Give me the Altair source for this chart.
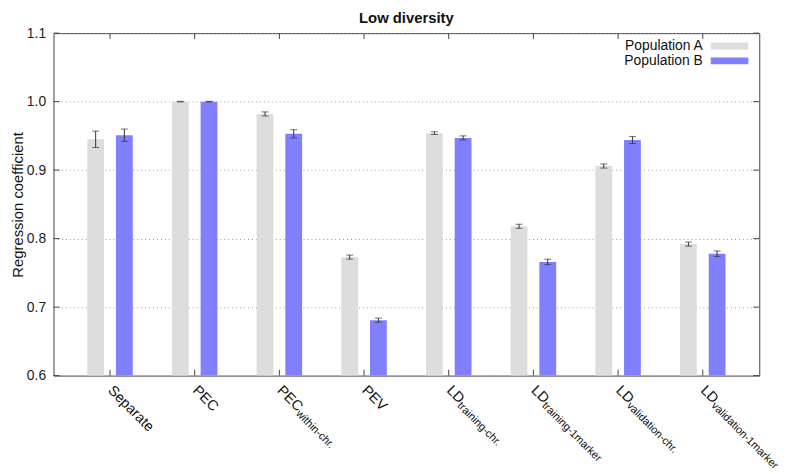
import altair as alt
import pandas as pd

FONT = "Liberation Sans"

title_text = ["Low diversity"]
label_main = ["Separate", "PEC", "PEC", "PEV", "LD", "LD", "LD", "LD"]
label_sub = ["", "", "within-chr.", "", "training-chr.", "training-1marker",
             "validation-chr.", "validation-1marker"]
keys = [m + s for m, s in zip(label_main, label_sub)]

pops = ["Population A", "Population B"]
pop_colors = ["#dddddd", "#8080ff"]

vals_A = [0.945, 1.000, 0.982, 0.773, 0.954, 0.818, 0.906, 0.792]
err_A = [0.012, 0.0005, 0.003, 0.003, 0.002, 0.003, 0.003, 0.003]
vals_B = [0.951, 1.000, 0.953, 0.681, 0.947, 0.766, 0.944, 0.778]
err_B = [0.009, 0.0005, 0.006, 0.003, 0.003, 0.004, 0.005, 0.004]

yticks = [0.6, 0.7, 0.8, 0.9, 1.0, 1.1]

W, H = 713, 346

rows = []
for i, k in enumerate(keys):
    rows.append({"key": k, "pop": pops[0], "val": vals_A[i],
                 "lo": vals_A[i] - err_A[i], "hi": vals_A[i] + err_A[i]})
    rows.append({"key": k, "pop": pops[1], "val": vals_B[i],
                 "lo": vals_B[i] - err_B[i], "hi": vals_B[i] + err_B[i]})
df = pd.DataFrame(rows)
lab = pd.DataFrame({"key": keys, "main": label_main, "sub": label_sub})
yt = pd.DataFrame({"v": yticks})
leg = pd.DataFrame({"pop": pops})
ttl = pd.DataFrame({"t": title_text})

xsc = alt.Scale(domain=keys, paddingInner=0.3, paddingOuter=0.317)
ysc = alt.Scale(domain=[0.6, 1.1], nice=False, zero=False)
xoff = alt.XOffset("pop:N", scale=alt.Scale(domain=pops, paddingInner=0.414, paddingOuter=0.24))
X = alt.X("key:N", scale=xsc, axis=None)
col = alt.Color("pop:N", scale=alt.Scale(domain=pops, range=pop_colors), legend=None)

bars = alt.Chart(df).mark_bar().encode(
    x=X, xOffset=xoff,
    y=alt.Y("val:Q", scale=ysc, axis=alt.Axis(
        values=yticks, format=".1f", ticks=False, domain=False,
        labelPadding=8, labelFontSize=14, labelFont=FONT, labelColor="#222",
        grid=True, gridDash=[1, 3], gridColor="#999",
        title="Regression coefficient", titleFont=FONT, titleFontSize=15,
        titleFontWeight="normal", titleColor="#111", titlePadding=1)),
    y2=alt.datum(0.6),
    color=col,
)

err = alt.Chart(df).mark_rule(color="#333", strokeWidth=1).encode(
    x=X, xOffset=xoff, y=alt.Y("lo:Q", scale=ysc), y2="hi:Q")
cap_lo = alt.Chart(df).mark_tick(color="#333", orient="horizontal", size=7, thickness=1).encode(
    x=X, xOffset=xoff, y=alt.Y("lo:Q", scale=ysc))
cap_hi = alt.Chart(df).mark_tick(color="#333", orient="horizontal", size=7, thickness=1).encode(
    x=X, xOffset=xoff, y=alt.Y("hi:Q", scale=ysc))

tick_l = alt.Chart(yt).mark_rule(color="#444").encode(
    y=alt.Y("v:Q", scale=ysc), x=alt.value(0), x2=alt.value(6))
tick_r = alt.Chart(yt).mark_rule(color="#444").encode(
    y=alt.Y("v:Q", scale=ysc), x=alt.value(W - 6), x2=alt.value(W))
tick_b = alt.Chart(lab).mark_rule(color="#444").encode(
    x=X, y=alt.value(H), y2=alt.value(H - 6))
tick_t = alt.Chart(lab).mark_rule(color="#444").encode(
    x=X, y=alt.value(0), y2=alt.value(6))

main_txt = alt.Chart(lab).mark_text(
    angle=45, align="left", baseline="top", font=FONT, fontSize=14.5, color="#111", dx=7
).encode(x=X, y=alt.value(H + 3), text="main:N")
sub_pec = alt.Chart(lab).transform_filter(
    (alt.datum.main == "PEC") & (alt.datum.sub != "")
).mark_text(angle=45, align="left", baseline="top", font=FONT, fontSize=11,
            color="#111", dx=7 + 30, dy=5).encode(x=X, y=alt.value(H + 3), text="sub:N")
sub_ld = alt.Chart(lab).transform_filter(
    alt.datum.main == "LD"
).mark_text(angle=45, align="left", baseline="top", font=FONT, fontSize=11,
            color="#111", dx=7 + 18.5, dy=5).encode(x=X, y=alt.value(H + 3), text="sub:N")

title_mark = alt.Chart(ttl).mark_text(
    align="center", baseline="alphabetic", font=FONT, fontSize=15, fontWeight="bold",
    color="#111").encode(x=alt.value(W / 2), y=alt.value(-10), text="t:N")

legend_layers = []
for p, yy in zip(pops, [13, 28]):
    d = alt.Chart(leg).transform_filter(alt.datum.pop == p)
    legend_layers.append(d.mark_rule(strokeWidth=7).encode(
        x=alt.value(W - 49), x2=alt.value(W - 11), y=alt.value(yy), color=col))
    legend_layers.append(d.mark_text(align="right", baseline="middle", font=FONT,
                                     fontSize=14, color="#111").encode(
        x=alt.value(W - 57), y=alt.value(yy), text="pop:N"))

chart = alt.layer(
    bars, err, cap_lo, cap_hi, tick_l, tick_r, tick_b, tick_t,
    main_txt, sub_pec, sub_ld, title_mark, *legend_layers
).properties(
    width=W, height=H,
    autosize=alt.AutoSizeParams(type="none"),
    padding={"left": 46, "top": 23, "right": 25, "bottom": 96},
).configure_view(stroke="#444", strokeWidth=1)

chart.save("out.html", embed_options={"renderer": "svg", "actions": False})
